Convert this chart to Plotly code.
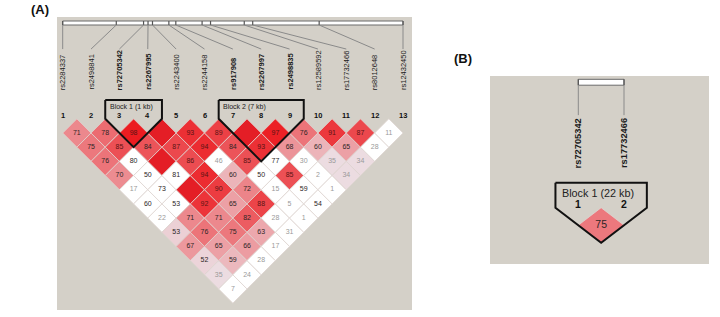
import plotly.graph_objects as go

# ---------------- data ----------------
snp_names = ["rs2284337", "rs2498841", "rs72705342", "rs2267995", "rs2243400",
             "rs2244158", "rs917908", "rs2267997", "rs2498835", "rs12589592",
             "rs17732466", "rs8012648", "rs12432450"]
snp_positions_kb = [0.0, 10.8, 16.3, 17.2, 18.1, 21.4, 22.8, 28.1, 29.8,
                    36.6, 38.3, 51.7, 68.6]
block_snps = [3, 4, 7, 8, 9]

# D' (x100) for pair (i, j), row i lists j = i+1 .. 13 ; 100 = D' of 1 (no number shown)
dprime_rows = [
    [71, 75, 76, 70, 17, 60, 22, 53, 67, 52, 35, 7],
    [78, 85, 80, 50, 73, 53, 71, 76, 65, 59, 24],
    [98, 84, 100, 81, 100, 92, 71, 75, 66, 28],
    [100, 87, 86, 94, 90, 65, 82, 63, 17],
    [93, 94, 46, 60, 72, 88, 28, 31],
    [89, 84, 85, 50, 15, 5, 1],
    [100, 93, 77, 85, 59, 54],
    [97, 68, 30, 2, 1],
    [76, 60, 35, 34],
    [91, 65, 34],
    [87, 28],
    [11],
]
# LOD >= 2 (1) or not (0), same layout
lod_sig_rows = [
    [1, 1, 1, 1, 0, 0, 0, 1, 1, 1, 1, 0],
    [1, 1, 0, 0, 0, 0, 1, 1, 1, 1, 0],
    [1, 1, 1, 0, 1, 1, 1, 1, 1, 0],
    [1, 1, 1, 1, 1, 1, 1, 1, 0],
    [1, 1, 0, 1, 1, 1, 0, 0],
    [1, 1, 1, 0, 0, 0, 0],
    [1, 1, 0, 1, 0, 0],
    [1, 1, 0, 0, 0],
    [1, 1, 1, 1],
    [1, 1, 1],
    [1, 0],
    [0],
]
blocks_a = [(3, 4, "Block 1 (1 kb)"), (7, 9, "Block 2 (7 kb)")]

b_snp_names = ["rs72705342", "rs17732466"]
b_positions_kb = [16.3, 38.3]
b_dprime = [[75]]
b_lod_sig = [[1]]
b_block = (1, 2, "Block 1 (22 kb)")

# ---------------- helpers ----------------
FONT = "Liberation Sans, Arial, sans-serif"
GRAY_BG = "#d4d0c8"
W, H = 720, 317


def dom_x(a, b):
    return [a / W, b / W]


def dom_y(top, bottom):
    return [1 - bottom / H, 1 - top / H]


def cell_color(v, sig):
    if not sig:
        return "rgb(255,255,255)"
    if v >= 100:
        return "rgb(228,30,38)"
    g = min(223.0, 446.0 * (1 - v / 100.0))
    g = int(20 + 0.9 * g)
    return "rgb(236,%d,%d)" % (g, min(255, g + 5))


def text_color(v, sig):
    if v < 50:
        return "#9a9a9a"
    if sig and v >= 85:
        return "#5a1414"
    return "#2e2626"


fig = go.Figure()


def add_ld(xa, ya, n, rows, sig_rows, tsize, hw=0.5, hh=1.0):
    tx, ty, tt, tc = [], [], [], []
    for i in range(1, n):
        for k, v in enumerate(rows[i - 1]):
            j = i + 1 + k
            sig = sig_rows[i - 1][k]
            cx = (i + j) / 2.0
            d = j - i
            fig.add_trace(go.Scatter(
                x=[cx - hw, cx, cx + hw, cx, cx - hw],
                y=[d, d - hh, d, d + hh, d],
                mode="lines", fill="toself",
                fillcolor=cell_color(v, sig),
                line=dict(color="rgba(222,212,208,1)", width=0.8),
                hoverinfo="skip", showlegend=False, xaxis=xa, yaxis=ya))
            if v < 100:
                tx.append(cx)
                ty.append(d)
                tt.append(str(v))
                tc.append(text_color(v, sig))
    fig.add_trace(go.Scatter(
        x=tx, y=ty, text=tt, mode="text",
        textfont=dict(family=FONT, size=tsize, color=tc),
        hoverinfo="skip", showlegend=False, xaxis=xa, yaxis=ya))


def add_block(xa, ya, lo, hi, top, width):
    xs = [lo - 0.5, lo - 0.5, (lo + hi) / 2.0, hi + 0.5, hi + 0.5, lo - 0.5]
    ys = [top, 0, hi - lo + 1, 0, top, top]
    fig.add_trace(go.Scatter(x=xs, y=ys, mode="lines",
                             line=dict(color="#111111", width=width),
                             hoverinfo="skip", showlegend=False,
                             xaxis=xa, yaxis=ya))


def add_map(xa, ya, names, pos, bar_top, bar_bot, line_end, label_bottom,
            label_size, bold_set, bold_all=False, straight=False):
    n = len(names)
    span = pos[-1] - pos[0]
    xt = [1 + (p - pos[0]) * (n - 1) / span for p in pos]
    fig.add_trace(go.Scatter(x=[1, n, n, 1, 1],
                             y=[bar_top, bar_top, bar_bot, bar_bot, bar_top],
                             mode="lines", fill="toself", fillcolor="white",
                             line=dict(color="#6a6a6a", width=1),
                             hoverinfo="skip", showlegend=False,
                             xaxis=xa, yaxis=ya))
    kx, ky = [], []
    for x in xt:
        kx += [x, x, None]
        ky += [bar_top, bar_bot, None]
    fig.add_trace(go.Scatter(x=kx, y=ky, mode="lines",
                             line=dict(color="#555555", width=1.2),
                             hoverinfo="skip", showlegend=False,
                             xaxis=xa, yaxis=ya))
    lx, ly = [], []
    for k, x in enumerate(xt):
        lx += [x, (x if straight else k + 1), None]
        ly += [bar_bot, line_end, None]
    fig.add_trace(go.Scatter(x=lx, y=ly, mode="lines",
                             line=dict(color="#8a8a8a", width=1),
                             hoverinfo="skip", showlegend=False,
                             xaxis=xa, yaxis=ya))
    for k, name in enumerate(names):
        bold = bold_all or (k + 1) in bold_set
        fig.add_annotation(x=k + 1, y=label_bottom, xref=xa, yref=ya,
                           text=("<b>%s</b>" % name) if bold else name,
                           textangle=-90, showarrow=False,
                           xanchor="center", yanchor="bottom",
                           font=dict(family=FONT, size=label_size, color="#1a1a1a"))


# ---------------- panel A ----------------
nA = len(snp_names)
add_map("x", "y", snp_names, snp_positions_kb, -6.898, -6.616, -4.92, -1.89,
        7.5, block_snps)
add_ld("x", "y", nA, dprime_rows, lod_sig_rows, 7)
for lo, hi, label in blocks_a:
    add_block("x", "y", lo, hi, -1.33, 2)
    fig.add_annotation(x=lo - 0.5 + 0.09, y=-0.86, xref="x", yref="y",
                       text=label, showarrow=False, xanchor="left",
                       yanchor="middle",
                       font=dict(family=FONT, size=7, color="#222222"))
for k in range(nA):
    fig.add_annotation(x=k + 1, y=-0.22, xref="x", yref="y",
                       text="<b>%d</b>" % (k + 1), showarrow=False,
                       font=dict(family=FONT, size=7.5, color="#111111"))

# ---------------- panel B ----------------
nB = len(b_snp_names)
add_map("x2", "y2", b_snp_names, b_positions_kb, -7.337, -7.0, -5.29, -2.15,
        9.3, [], bold_all=True, straight=True)
add_ld("x2", "y2", nB, b_dprime, b_lod_sig, 10.5)
lo, hi, label = b_block
add_block("x2", "y2", lo, hi, -1.43, 2)
fig.add_annotation(x=lo - 0.5 + 0.09, y=-0.86, xref="x2", yref="y2",
                   text=label, showarrow=False, xanchor="left", yanchor="middle",
                   font=dict(family=FONT, size=10.8, color="#222222"))
for k in range(nB):
    fig.add_annotation(x=k + 1, y=-0.2, xref="x2", yref="y2",
                       text="<b>%d</b>" % (k + 1), showarrow=False,
                       font=dict(family=FONT, size=10.5, color="#111111"))

# panel letters
fig.add_annotation(x=29 / W, y=1 - 9 / H, xref="paper", yref="paper",
                   text="<b>(A)</b>", showarrow=False, yanchor="middle",
                   font=dict(family=FONT, size=13, color="#111111"))
fig.add_annotation(x=462.5 / W, y=1 - 59 / H, xref="paper",
                   yref="paper", text="<b>(B)</b>", showarrow=False,
                   yanchor="middle",
                   font=dict(family=FONT, size=13, color="#111111"))

ax_common = dict(showgrid=False, zeroline=False, showticklabels=False,
                 ticks="", showline=False, fixedrange=True)
fig.update_layout(
    width=W, height=H,
    margin=dict(l=0, r=0, t=0, b=0),
    paper_bgcolor="white", plot_bgcolor=GRAY_BG,
    showlegend=False,
    xaxis=dict(domain=dom_x(57, 412), range=[0.799, 13.317],
               anchor="y", **ax_common),
    yaxis=dict(domain=dom_y(17, 310), range=[13.482, -7.1805],
               anchor="x", **ax_common),
    xaxis2=dict(domain=dom_x(490, 709), range=[-0.9322, 3.860],
                anchor="y2", **ax_common),
    yaxis2=dict(domain=dom_y(76, 264), range=[3.217, -7.526],
                anchor="x2", **ax_common),
)

fig.write_html("out.html", config={"displayModeBar": False},
               post_script="document.body.style.margin='0';"
                           "document.body.style.overflow='hidden';")
